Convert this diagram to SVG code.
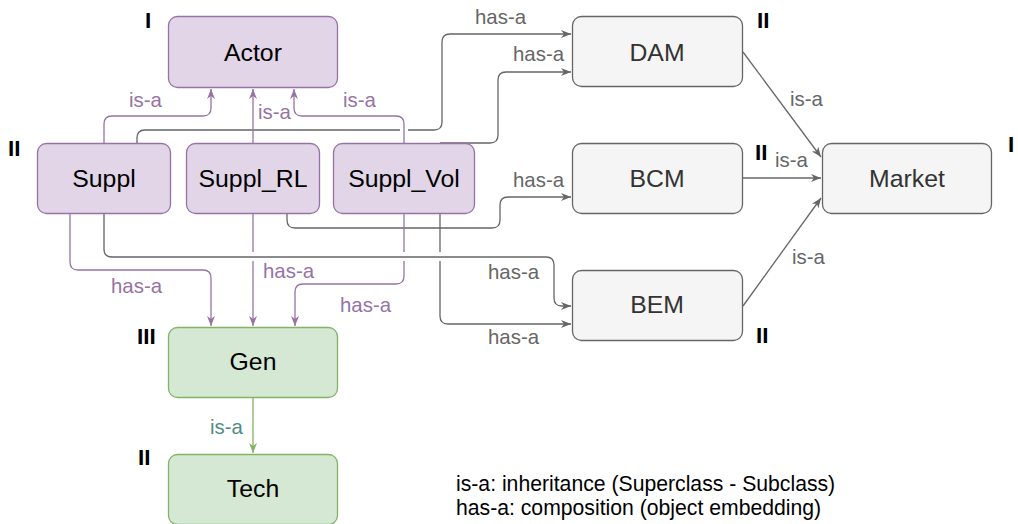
<svg xmlns="http://www.w3.org/2000/svg" width="1018" height="524" viewBox="0 0 1018 524">
  <style>
    .purple rect { fill: #e1d5e7; stroke: #9673a6; stroke-width: 1.3; }
    .gray rect { fill: #f5f5f5; stroke: #666666; stroke-width: 1.3; }
    .green rect { fill: #d5e8d4; stroke: #82b366; stroke-width: 1.3; }
    .node text { font-family: "Liberation Sans", Arial, sans-serif; font-size: 24.8px; text-anchor: middle; fill: #000; }
    .gray text { fill: #333333; }
    .edge { fill: none; stroke-width: 1.3; }
    .ep { stroke: #9673a6; }
    .eg { stroke: #666666; }
    .en { stroke: #82b366; }
    .lbl { font-family: "Liberation Sans", Arial, sans-serif; font-size: 20.4px; }
    .lp { fill: #9673a6; }
    .lg { fill: #666666; }
    .ln { fill: #4e8c84; }
    .lvl { font-family: "Liberation Sans", Arial, sans-serif; font-size: 22.5px; font-weight: bold; fill: #000; }
    .legend { font-family: "Liberation Sans", Arial, sans-serif; font-size: 21.2px; fill: #000; }
  </style>
  <defs>
    <marker id="arrP" viewBox="0 0 10 8" refX="10" refY="4" markerWidth="10" markerHeight="8" markerUnits="userSpaceOnUse" orient="auto">
      <path d="M0,0 L10,4 L0,8 L3,4 Z" fill="#9673a6"/>
    </marker>
    <marker id="arrG" viewBox="0 0 10 8" refX="10" refY="4" markerWidth="10" markerHeight="8" markerUnits="userSpaceOnUse" orient="auto">
      <path d="M0,0 L10,4 L0,8 L3,4 Z" fill="#666666"/>
    </marker>
    <marker id="arrN" viewBox="0 0 10 8" refX="10" refY="4" markerWidth="10" markerHeight="8" markerUnits="userSpaceOnUse" orient="auto">
      <path d="M0,0 L10,4 L0,8 L3,4 Z" fill="#82b366"/>
    </marker>
  </defs>

  <rect x="0" y="0" width="1018" height="524" fill="#ffffff"/>

  <g id="connectors">
    <!-- has-a (composition) links toward the markets -->
    <path class="edge eg" d="M137,143 V138 Q137,130 145,130 H400"/>
    <path class="edge eg" d="M408,130 H434 Q442,130 442,122 V42 Q442,34 450,34 H571" marker-end="url(#arrG)"/>
    <path class="edge eg" d="M440,143 H490 Q498,143 498,135 V80 Q498,72 506,72 H571" marker-end="url(#arrG)"/>
    <path class="edge eg" d="M287,214 V220 Q287,228 295,228 H492 Q500,228 500,220 V205 Q500,197 508,197 H571" marker-end="url(#arrG)"/>
    <path class="edge eg" d="M104,214 V249 Q104,257 112,257 H546 Q554,257 554,265 V298 Q554,306 562,306 H571" marker-end="url(#arrG)"/>
    <path class="edge eg" d="M440,214 V252"/>
    <path class="edge eg" d="M440,261 V316 Q440,324 448,324 H571" marker-end="url(#arrG)"/>

    <!-- is-a links to Market -->
    <path class="edge eg" d="M743,52 L821,157" marker-end="url(#arrG)"/>
    <path class="edge eg" d="M743,178 H821" marker-end="url(#arrG)"/>
    <path class="edge eg" d="M743,306 L821,198" marker-end="url(#arrG)"/>

    <!-- is-a links to Actor -->
    <path class="edge ep" d="M104,143 V124 Q104,116 112,116 H203 Q211,116 211,108 V89" marker-end="url(#arrP)"/>
    <path class="edge ep" d="M253,143 V89" marker-end="url(#arrP)"/>
    <path class="edge ep" d="M404,143 V124 Q404,116 396,116 H302 Q294,116 294,108 V89" marker-end="url(#arrP)"/>

    <!-- has-a links to Gen -->
    <path class="edge ep" d="M70,214 V262 Q70,270 78,270 H203 Q211,270 211,278 V326" marker-end="url(#arrP)"/>
    <path class="edge ep" d="M253,214 V252"/>
    <path class="edge ep" d="M253,261 V326" marker-end="url(#arrP)"/>
    <path class="edge ep" d="M404,214 V252"/>
    <path class="edge ep" d="M404,261 V276 Q404,284 396,284 H303 Q295,284 295,292 V326" marker-end="url(#arrP)"/>

    <!-- Gen is-a Tech -->
    <path class="edge en" d="M253,398 V453" marker-end="url(#arrN)"/>

    <!-- connector labels -->
    <text class="lbl lp" x="129" y="107">is-a</text>
    <text class="lbl lp" x="258" y="119">is-a</text>
    <text class="lbl lp" x="343" y="107">is-a</text>
    <text class="lbl lg" x="475" y="24">has-a</text>
    <text class="lbl lg" x="513" y="61">has-a</text>
    <text class="lbl lg" x="513" y="187">has-a</text>
    <text class="lbl lg" x="488" y="279">has-a</text>
    <text class="lbl lg" x="488" y="344">has-a</text>
    <text class="lbl lg" x="790" y="106">is-a</text>
    <text class="lbl lg" x="775" y="167">is-a</text>
    <text class="lbl lg" x="792" y="264">is-a</text>
    <text class="lbl lp" x="111" y="293">has-a</text>
    <text class="lbl lp" x="263" y="278">has-a</text>
    <text class="lbl lp" x="340" y="312">has-a</text>
    <text class="lbl ln" x="210" y="434">is-a</text>
  </g>

  <g id="actor" class="node purple">
    <rect x="168.5" y="16.5" width="169" height="71" rx="9"/>
    <text x="253" y="61">Actor</text>
  </g>
  <g id="suppl" class="node purple">
    <rect x="37.5" y="143.5" width="133" height="70" rx="9"/>
    <text x="104" y="187">Suppl</text>
  </g>
  <g id="suppl-rl" class="node purple">
    <rect x="186.5" y="143.5" width="133" height="70" rx="9"/>
    <text x="253" y="187">Suppl_RL</text>
  </g>
  <g id="suppl-vol" class="node purple">
    <rect x="333.5" y="143.5" width="141" height="70" rx="9"/>
    <text x="404" y="187">Suppl_Vol</text>
  </g>
  <g id="dam" class="node gray">
    <rect x="572.5" y="16.5" width="170" height="70" rx="9"/>
    <text x="657" y="61">DAM</text>
  </g>
  <g id="bcm" class="node gray">
    <rect x="572.5" y="143.5" width="170" height="70" rx="9"/>
    <text x="657" y="187">BCM</text>
  </g>
  <g id="bem" class="node gray">
    <rect x="572.5" y="270.5" width="170" height="70" rx="9"/>
    <text x="657" y="313">BEM</text>
  </g>
  <g id="market" class="node gray">
    <rect x="822.5" y="143.5" width="169" height="70" rx="9"/>
    <text x="907" y="187">Market</text>
  </g>
  <g id="gen" class="node green">
    <rect x="168.5" y="327.5" width="169" height="70" rx="9"/>
    <text x="253" y="370">Gen</text>
  </g>
  <g id="tech" class="node green">
    <rect x="168.5" y="454.5" width="169" height="70" rx="9"/>
    <text x="253" y="497">Tech</text>
  </g>

  <g id="levels">
    <text class="lvl" x="145" y="28">I</text>
    <text class="lvl" x="8" y="156">II</text>
    <text class="lvl" x="757" y="28">II</text>
    <text class="lvl" x="755" y="160">II</text>
    <text class="lvl" x="1008" y="152">I</text>
    <text class="lvl" x="756" y="343">II</text>
    <text class="lvl" x="137" y="344">III</text>
    <text class="lvl" x="138" y="465">II</text>
  </g>

  <g id="legend">
    <text class="legend" x="456" y="491">is-a: inheritance (Superclass - Subclass)</text>
    <text class="legend" x="456" y="515">has-a: composition (object embedding)</text>
  </g>
</svg>
